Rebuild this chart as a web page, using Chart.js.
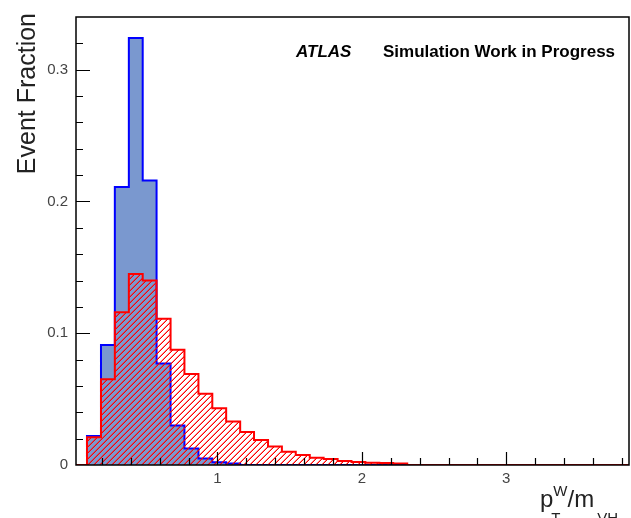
<!DOCTYPE html>
<html>
<head>
<meta charset="utf-8">
<script src="https://cdn.jsdelivr.net/npm/chart.js@4.4.1/dist/chart.umd.min.js"></script>
<style>
  html, body { margin: 0; padding: 0; background: #fff; }
  #wrap { width: 631px; height: 518px; }
</style>
</head>
<body>
<div id="wrap"><canvas id="chart" width="631" height="518"></canvas></div>
<script>
// bin edges (low edge of each bin, last entry closes the last bin)
const binEdges = [0.096, 0.193, 0.289, 0.386, 0.482, 0.578, 0.675, 0.771, 0.868, 0.964,
  1.060, 1.157, 1.253, 1.350, 1.446, 1.542, 1.639, 1.735, 1.832, 1.928,
  2.024, 2.121, 2.217, 2.314];

// blue filled histogram
const blueValues = [0.022, 0.091, 0.211, 0.324, 0.216, 0.077, 0.030, 0.0126, 0.005, 0.002,
  0.0012, 0, 0, 0, 0, 0, 0, 0, 0, 0, 0, 0, 0];

// red hatched histogram
const redValues = [0.021, 0.065, 0.116, 0.145, 0.140, 0.111, 0.0875, 0.069, 0.054, 0.043,
  0.033, 0.025, 0.019, 0.014, 0.010, 0.0075, 0.0055, 0.0045, 0.003, 0.0022,
  0.0018, 0.0015, 0.0012];

const xTickValues = [1, 2, 3];
const xTickLabels = ["1", "2", "3"];
const yTickValues = [0, 0.1, 0.2, 0.3];
const yTickLabels = ["0", "0.1", "0.2", "0.3"];

const X_MIN = 0.02, X_MAX = 3.85, Y_MAX = 0.34;

// turn bin contents into step points (each point holds its value until the next one)
function toSteps(values, fromMin) {
  const pts = [];
  if (fromMin) pts.push({ x: X_MIN, y: 0 });
  pts.push({ x: binEdges[0], y: 0 });
  values.forEach((v, i) => pts.push({ x: binEdges[i], y: v }));
  pts.push({ x: binEdges[values.length], y: 0 });
  if (fromMin) pts.push({ x: X_MAX, y: 0 });
  return pts;
}

// red "/" hatch
function makeHatch() {
  const c = document.createElement("canvas");
  c.width = 6; c.height = 6;
  const g = c.getContext("2d");
  for (let y = 0; y < 6; y++) {
    for (let x = 0; x < 6; x++) {
      const k = (x + y) % 6;
      if (k === 0) { g.fillStyle = "#ff0000"; g.fillRect(x, y, 1, 1); }
      if (k === 5) { g.fillStyle = "rgba(255,0,0,0.45)"; g.fillRect(x, y, 1, 1); }
    }
  }
  return g.createPattern(c, "repeat");
}

const framePlugin = {
  id: "frame",
  afterDraw(chart) {
    const { ctx, chartArea: a, scales } = chart;
    const xs = scales.x, ys = scales.y;
    ctx.save();
    ctx.strokeStyle = "#000";
    ctx.lineWidth = 1.2;
    ctx.beginPath();
    // x ticks, inside
    for (let v = 0.2; v < X_MAX; v += 0.2) {
      const px = Math.round(xs.getPixelForValue(v)) + 0.5;
      const major = Math.abs(v - Math.round(v)) < 1e-6;
      ctx.moveTo(px, a.bottom);
      ctx.lineTo(px, a.bottom - (major ? 13 : 7));
    }
    // y ticks, inside
    for (let v = 0.02; v < Y_MAX; v += 0.02) {
      const py = Math.round(ys.getPixelForValue(v)) + 0.5;
      const major = Math.abs(v * 10 - Math.round(v * 10)) < 1e-6;
      ctx.moveTo(a.left, py);
      ctx.lineTo(a.left + (major ? 14 : 7), py);
    }
    ctx.stroke();
    ctx.lineWidth = 1.5;
    ctx.strokeRect(a.left, a.top, a.right - a.left, a.bottom - a.top);

    // labels
    ctx.fillStyle = "#000";
    ctx.textBaseline = "alphabetic";
    ctx.font = "italic bold 17px 'Liberation Sans', Arial, sans-serif";
    ctx.fillText("ATLAS", 296, 57);
    ctx.font = "bold 17px 'Liberation Sans', Arial, sans-serif";
    ctx.fillText("Simulation Work in Progress", 383, 57);

    // y title
    ctx.save();
    ctx.translate(35, 13);
    ctx.rotate(-Math.PI / 2);
    ctx.textAlign = "right";
    ctx.font = "25px 'Liberation Sans', Arial, sans-serif";
    ctx.fillStyle = "#222";
    ctx.fillText("Event Fraction", 0, 0);
    ctx.restore();

    // x title p_T^W / m_VH
    ctx.fillStyle = "#222";
    ctx.textAlign = "left";
    let x = 540;
    ctx.font = "24px 'Liberation Sans', Arial, sans-serif";
    ctx.fillText("p", x, 507);
    x += ctx.measureText("p").width;
    ctx.font = "15px 'Liberation Sans', Arial, sans-serif";
    ctx.fillText("W", x, 496);
    ctx.fillText("T", x - 2, 523);
    x += ctx.measureText("W").width;
    ctx.font = "24px 'Liberation Sans', Arial, sans-serif";
    ctx.fillText("/m", x, 507);
    x += ctx.measureText("/m").width + 3;
    ctx.font = "15px 'Liberation Sans', Arial, sans-serif";
    ctx.fillText("VH", x, 523);
    ctx.restore();
  }
};

new Chart(document.getElementById("chart"), {
  type: "line",
  data: {
    datasets: [
      {
        label: "red",
        data: toSteps(redValues, true),
        stepped: "before",
        borderColor: "#ff0000",
        borderWidth: 2,
        backgroundColor: makeHatch(),
        fill: "origin",
        pointRadius: 0,
        order: 0
      },
      {
        label: "blue",
        data: toSteps(blueValues, false),
        stepped: "before",
        borderColor: "#0000ff",
        borderWidth: 2,
        backgroundColor: "rgb(122,152,207)",
        fill: "origin",
        pointRadius: 0,
        order: 1
      }
    ]
  },
  options: {
    responsive: false,
    animation: false,
    layout: { padding: { top: 15, right: 2, left: 0, bottom: 0 } },
    plugins: { legend: { display: false }, tooltip: { enabled: false } },
    scales: {
      x: {
        type: "linear",
        min: X_MIN,
        max: X_MAX,
        grid: { display: false, drawTicks: false },
        border: { display: false },
        afterBuildTicks: s => { s.ticks = xTickValues.map(v => ({ value: v })); },
        afterFit: s => { s.height = 53; },
        ticks: {
          padding: 5,
          color: "#444",
          font: { size: 15, family: "'Liberation Sans', Arial, sans-serif" },
          maxRotation: 0,
          callback: (v) => xTickLabels[xTickValues.indexOf(v)]
        }
      },
      y: {
        min: 0,
        max: Y_MAX,
        grid: { display: false, drawTicks: false },
        border: { display: false },
        afterBuildTicks: s => { s.ticks = yTickValues.map(v => ({ value: v })); },
        afterFit: s => { s.width = 76; },
        ticks: {
          padding: 8,
          color: "#444",
          font: { size: 15, family: "'Liberation Sans', Arial, sans-serif" },
          callback: (v) => yTickLabels[yTickValues.indexOf(v)]
        }
      }
    }
  },
  plugins: [framePlugin]
});
</script>
</body>
</html>
